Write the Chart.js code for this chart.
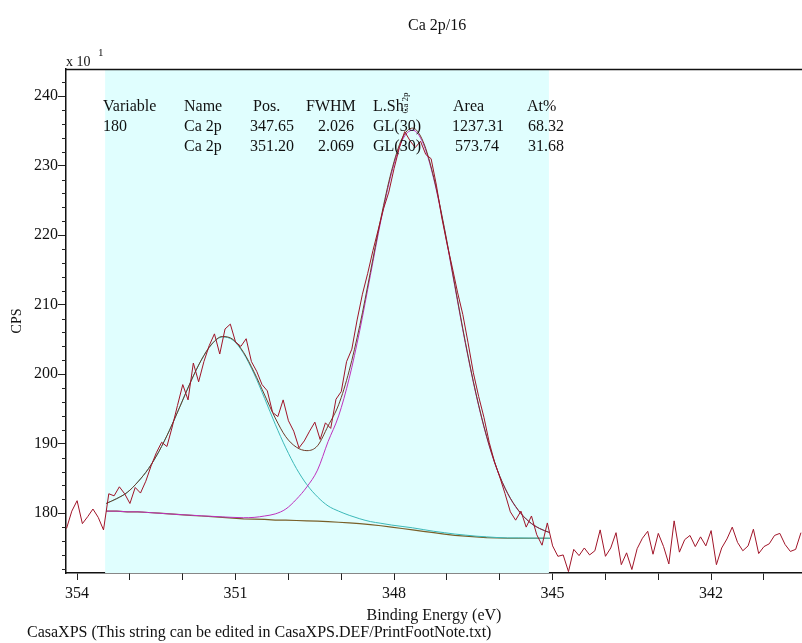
<!DOCTYPE html>
<html>
<head>
<meta charset="utf-8">
<title>Ca 2p/16</title>
<script src="https://cdn.jsdelivr.net/npm/chart.js@4.4.1/dist/chart.umd.min.js"></script>
<style>
  html, body { margin: 0; padding: 0; background: #fff; overflow: hidden; }
  canvas { display: block; }
</style>
</head>
<body>
<canvas id="c" width="802" height="643"></canvas>
<script>
// Ca 2p region, raw counts (CPS x 10) against binding energy (eV)
const energies = [
  354.2,354.1,354.0,353.9,353.8,353.7,353.6,353.5,353.4,353.3,
  353.2,353.1,353.0,352.9,352.8,352.7,352.6,352.5,352.4,352.3,
  352.2,352.1,352.0,351.9,351.8,351.7,351.6,351.5,351.4,351.3,
  351.2,351.1,351.0,350.9,350.8,350.7,350.6,350.5,350.4,350.3,
  350.2,350.1,350.0,349.9,349.8,349.7,349.6,349.5,349.4,349.3,
  349.2,349.1,349.0,348.9,348.8,348.7,348.6,348.5,348.4,348.3,
  348.2,348.1,348.0,347.9,347.8,347.7,347.6,347.5,347.4,347.3,
  347.2,347.1,347.0,346.9,346.8,346.7,346.6,346.5,346.4,346.3,
  346.2,346.1,346.0,345.9,345.8,345.7,345.6,345.5,345.4,345.3,
  345.2,345.1,345.0,344.9,344.8,344.7,344.6,344.5,344.4,344.3,
  344.2,344.1,344.0,343.9,343.8,343.7,343.6,343.5,343.4,343.3,
  343.2,343.1,343.0,342.9,342.8,342.7,342.6,342.5,342.4,342.3,
  342.2,342.1,342.0,341.9,341.8,341.7,341.6,341.5,341.4,341.3,
  341.2,341.1,341.0,340.9,340.8,340.7,340.6,340.5,340.4,340.3
];
const counts = [
  177.8,180.3,181.8,178.5,179.5,180.6,179.4,177.6,182.8,182.5,
  183.8,182.8,181.4,183.7,182.9,184.6,186.8,188.7,190.2,189.6,
  192.4,195.5,198.5,196.3,201.6,198.9,201.8,204.1,205.8,202.9,
  206.5,207.2,204.6,204.0,205.1,201.8,200.4,198.5,197.6,194.5,
  193.9,196.3,193.3,191.8,189.4,190.4,191.8,193.1,190.6,193.0,
  192.2,196.4,197.5,201.8,203.6,207.8,211.5,214.5,217.8,220.8,
  223.8,226.2,229.6,232.6,234.9,233.6,232.6,233.5,231.6,231.0,
  227.2,222.6,218.8,215.4,211.8,208.6,204.5,200.2,196.8,193.8,
  190.2,187.4,185.2,182.8,180.2,179.0,180.3,178.0,179.6,176.9,
  175.4,178.6,175.3,173.8,174.0,171.6,174.8,173.9,175.0,174.0,
  174.6,177.6,173.8,175.0,177.2,172.6,174.3,171.9,174.9,176.4,
  177.4,174.1,177.1,175.2,172.7,178.9,174.4,176.2,176.8,175.2,
  176.6,175.3,177.5,172.6,175.0,176.3,178.0,175.8,174.6,175.3,
  177.7,174.2,175.2,175.6,176.8,177.1,175.5,174.5,174.8,177.2
];

// Fit region and the curves evaluated inside it
const regionStart = 353.47;
const regionEnd = 345.07;
const fitEnergies = [
  353.45,353.25,353.05,352.85,352.65,352.45,352.25,352.05,351.85,351.65,
  351.45,351.25,351.05,350.85,350.65,350.45,350.25,350.05,349.85,349.65,
  349.45,349.25,349.05,348.85,348.65,348.45,348.25,348.05,347.85,347.65,
  347.45,347.25,347.05,346.85,346.65,346.45,346.25,346.05,345.85,345.65,
  345.45,345.25,345.05
];
const background = [
  180.3,180.3,180.2,180.2,180.1,180.0,179.9,179.8,179.7,179.6,
  179.5,179.4,179.3,179.2,179.15,179.1,179.0,179.0,178.95,178.9,
  178.85,178.8,178.7,178.6,178.5,178.35,178.2,178.0,177.8,177.6,
  177.4,177.2,177.0,176.8,176.7,176.6,176.5,176.45,176.4,176.4,
  176.4,176.4,176.4
];
const peak351 = [
  181.4,182.1,183.0,184.5,186.4,188.9,191.95,195.4,198.9,202.0,
  204.3,205.35,204.9,203.0,200.05,196.5,192.8,189.4,186.45,184.1,
  182.35,181.05,180.3,179.7,179.2,178.8,178.55,178.3,178.1,177.9,
  177.65,177.4,177.2,177.0,176.85,176.7,176.6,176.5,176.45,176.45,
  176.43,176.42,176.4
];
const peak347 = [
  180.3,180.3,180.2,180.2,180.1,180.0,179.9,179.8,179.72,179.63,
  179.55,179.47,179.4,179.35,179.4,179.6,179.9,180.6,182.0,183.8,
  186.2,190.3,194.0,199.4,206.3,214.2,222.1,228.9,233.6,235.1,
  233.2,228.1,220.9,212.6,204.4,197.1,191.0,186.25,182.8,180.4,
  178.8,177.8,177.2
];
const envelope = [
  181.4,182.1,183.0,184.5,186.4,188.9,191.95,195.4,198.92,202.03,
  204.35,205.42,205.0,203.15,200.3,197.0,193.7,191.0,189.5,189.0,
  189.7,192.55,195.6,200.5,207.0,214.65,222.45,229.2,233.9,235.4,
  233.45,228.3,221.1,212.8,204.55,197.2,191.1,186.3,182.85,180.45,
  178.83,177.82,177.2
];

// Quantification table
const tableHeader = ['Variable', 'Name', 'Pos.', 'FWHM', 'L.Sh.', 'Area', 'At%'];
const tableRows = [
  ['180', 'Ca 2p', '347.65', '2.026', 'GL(30)', '1237.31', '68.32'],
  ['',    'Ca 2p', '351.20', '2.069', 'GL(30)', '573.74',  '31.68']
];

// Axis ticks
const xTickValues = [354,353,352,351,350,349,348,347,346,345,344,343,342,341];
const xTickLabels = [354,351,348,345,342];
const yTickValues = [180,190,200,210,220,230,240];
const yMinorTicks = [172,174,176,178,182,184,186,188,192,194,196,198,202,204,206,208,
                     212,214,216,218,222,224,226,228,232,234,236,238,242];

const SERIF = '"Liberation Serif", "DejaVu Serif", "Times New Roman", serif';
const pts = (xs, ys) => xs.map((x, i) => ({ x: x, y: ys[i] }));

const casaDecor = {
  id: 'casaDecor',
  beforeDatasetsDraw(chart) {
    const { ctx, chartArea, scales } = chart;
    const x1 = scales.x.getPixelForValue(regionStart);
    const x2 = scales.x.getPixelForValue(regionEnd);
    ctx.save();
    ctx.fillStyle = 'rgb(224,254,254)';
    ctx.fillRect(Math.min(x1, x2), chartArea.top, Math.abs(x2 - x1), chartArea.bottom - chartArea.top);
    ctx.restore();
  },
  afterDraw(chart) {
    const { ctx, chartArea, scales } = chart;
    ctx.save();
    // top frame line
    ctx.strokeStyle = '#111';
    ctx.lineWidth = 1.5;
    ctx.beginPath();
    ctx.moveTo(chartArea.left, chartArea.top + 0.5);
    ctx.lineTo(chartArea.right, chartArea.top + 0.5);
    ctx.stroke();

    // minor y ticks
    ctx.lineWidth = 1;
    ctx.strokeStyle = '#222';
    ctx.beginPath();
    yMinorTicks.forEach(v => {
      const y = Math.round(scales.y.getPixelForValue(v)) + 0.5;
      ctx.moveTo(chartArea.left - 4, y);
      ctx.lineTo(chartArea.left, y);
    });
    ctx.stroke();

    ctx.fillStyle = '#111';
    ctx.textBaseline = 'middle';
    ctx.textAlign = 'left';

    // title
    ctx.font = '16px ' + SERIF;
    ctx.fillText('Ca 2p/16', 408, 26);

    // axis multiplier
    ctx.font = '14px ' + SERIF;
    ctx.fillText('x 10', 66, 62);
    ctx.font = '11px ' + SERIF;
    ctx.fillText('1', 98, 53);

    // quantification table
    ctx.font = '16px ' + SERIF;
    const headCols = [103, 184, 253, 306, 373, 453, 527];
    tableHeader.forEach((t, i) => ctx.fillText(t, headCols[i], 107));
    const valCols = [103, 184, 250, 318, 373, 452, 528];
    tableRows.forEach((row, r) => {
      row.forEach((t, i) => {
        let x = valCols[i];
        if (i === 5 && r === 1) x = 455;
        ctx.fillText(t, x, 127 + r * 20);
      });
    });

    // peak label above the main component
    ctx.save();
    ctx.translate(scales.x.getPixelForValue(347.78), 103);
    ctx.rotate(-Math.PI / 2);
    ctx.font = '9px ' + SERIF;
    ctx.textAlign = 'center';
    ctx.fillText('Ca 2p', 0, 0);
    ctx.restore();

    // footnote
    ctx.font = '16px ' + SERIF;
    ctx.fillText('CasaXPS (This string can be edited in CasaXPS.DEF/PrintFootNote.txt)', 27, 633);
    ctx.restore();
  }
};

new Chart(document.getElementById('c'), {
  type: 'line',
  data: {
    datasets: [
      { label: 'Counts', data: pts(energies, counts), borderColor: 'rgb(160,20,40)', borderWidth: 1, order: 0 },
      { label: 'Envelope', data: pts(fitEnergies, envelope), borderColor: 'rgb(110,60,40)', borderWidth: 1, tension: 0.4, cubicInterpolationMode: 'monotone', order: 1 },
      { label: 'Ca 2p 347.65', data: pts(fitEnergies, peak347), borderColor: 'rgb(190,50,190)', borderWidth: 1, cubicInterpolationMode: 'monotone', order: 2 },
      { label: 'Ca 2p 351.20', data: pts(fitEnergies, peak351), borderColor: 'rgb(60,185,185)', borderWidth: 1, cubicInterpolationMode: 'monotone', order: 3 },
      { label: 'Background', data: pts(fitEnergies, background), borderColor: 'rgb(120,95,40)', borderWidth: 1.2, order: 4 }
    ]
  },
  options: {
    responsive: false,
    animation: false,
    devicePixelRatio: 1,
    elements: { point: { radius: 0 }, line: { tension: 0, fill: false } },
    layout: { padding: { top: 69, right: 0, bottom: 18, left: 0 } },
    plugins: { legend: { display: false }, tooltip: { enabled: false }, title: { display: false } },
    scales: {
      x: {
        type: 'linear',
        reverse: true,
        min: 340.28,
        max: 354.21,
        afterBuildTicks: axis => { axis.ticks = xTickValues.map(v => ({ value: v })); },
        afterFit: axis => { axis.height = 52; },
        ticks: {
          autoSkip: false,
          maxRotation: 0,
          padding: 4,
          color: '#111',
          font: { family: SERIF, size: 16 },
          callback: v => (xTickLabels.includes(v) ? String(v) : '')
        },
        grid: { drawOnChartArea: false, drawTicks: true, tickLength: 7, color: '#222' },
        border: { display: true, color: '#111', width: 1.5 },
        title: { display: true, text: 'Binding Energy (eV)', color: '#111', font: { family: SERIF, size: 16 }, padding: { top: 0, bottom: 0 } }
      },
      y: {
        type: 'linear',
        min: 171.4,
        max: 243.9,
        afterBuildTicks: axis => { axis.ticks = yTickValues.map(v => ({ value: v })); },
        afterFit: axis => { axis.width = 66; },
        ticks: {
          padding: 0,
          color: '#111',
          font: { family: SERIF, size: 16 },
          callback: v => String(v)
        },
        grid: { drawOnChartArea: false, drawTicks: true, tickLength: 8, color: '#222' },
        border: { display: true, color: '#111', width: 1.5 },
        title: { display: true, text: 'CPS', color: '#111', font: { family: SERIF, size: 14 }, padding: { top: 9, bottom: 0 } }
      }
    }
  },
  plugins: [casaDecor]
});
</script>
</body>
</html>
